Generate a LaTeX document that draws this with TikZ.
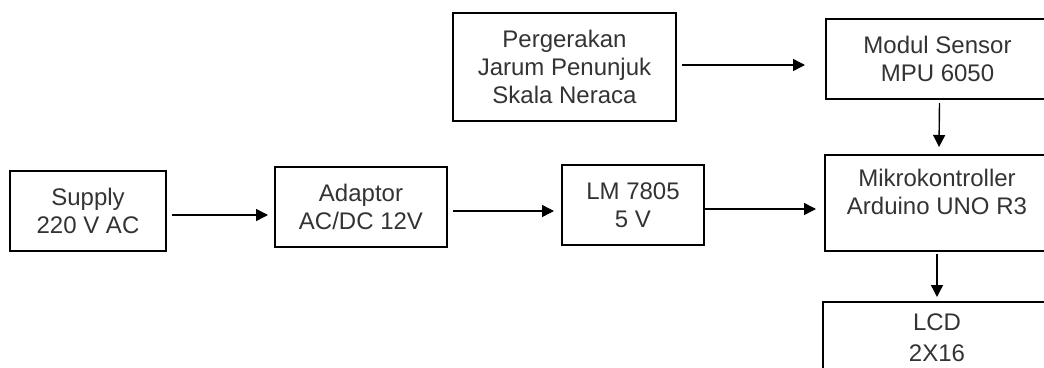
\documentclass[tikz,border=0pt]{standalone}
\usepackage{fontspec}
\setmainfont{Liberation Sans}
\usetikzlibrary{calc,arrows.meta}
\tikzset{
  blk/.style={draw=black, line width=1.6pt, rectangle, inner sep=0pt, outer sep=0pt,
    anchor=north west, align=center, text=black!80,
    font=\fontsize{24pt}{28pt}\selectfont},
  arr/.style={line width=1.4pt, draw=black, -{Triangle[length=12pt,width=12pt]}}
}
\begin{document}
\begin{tikzpicture}[x=1pt,y=1pt]
\useasboundingbox (0,0) rectangle (1044,-367);
\clip (0,0) rectangle (1044,-367);
\node[blk, minimum width=156pt, minimum height=80pt] (sup) at (10,-171) {Supply\\220 V AC};
\node[blk, minimum width=172pt, minimum height=80pt] (ad) at (275,-167) {Adaptor\\AC/DC 12V};
\node[blk, minimum width=142pt, minimum height=80pt] (lm) at (562,-165) {LM 7805\\5 V};
\node[blk] (mk) at (825,-155) {\parbox[c][96pt][t]{224pt}{\centering\vspace*{14pt}Mikrokontroller\\Arduino UNO R3}};
\node[blk, minimum width=223pt, minimum height=108pt] (per) at (453,-13) {Pergerakan\\Jarum Penunjuk\\Skala Neraca};
\node[blk, minimum width=223pt, minimum height=80pt] (mod) at (826,-19) {Modul Sensor\\MPU 6050};
\node[blk] (lcd) at (823,-302) {\parbox[c][98pt][t]{228pt}{\centering\fontsize{24pt}{31pt}\selectfont\vspace*{12pt}LCD\\2X16}};
\draw[arr] ($(sup.east)+(6,-4)$) -- ($(ad.west)+(-7,-8)$);
\draw[arr] ($(ad.east)+(6,-4)$) -- ($(lm.west)+(-8,-6)$);
\draw[arr] ($(lm.east)+(0,-4)$) -- ($(mk.west)+(-9,-6)$);
\draw[arr] ($(per.east)+(6,2)$) -- ($(mod.west)+(-21,-6)$);
\draw[arr] ($(mod.south)+(2,-4)$) -- ($(mk.north)+(2,8)$);
\draw[arr] ($(mk.south)+(0,-3)$) -- ($(lcd.north)+(0,5)$);
\end{tikzpicture}
\end{document}
